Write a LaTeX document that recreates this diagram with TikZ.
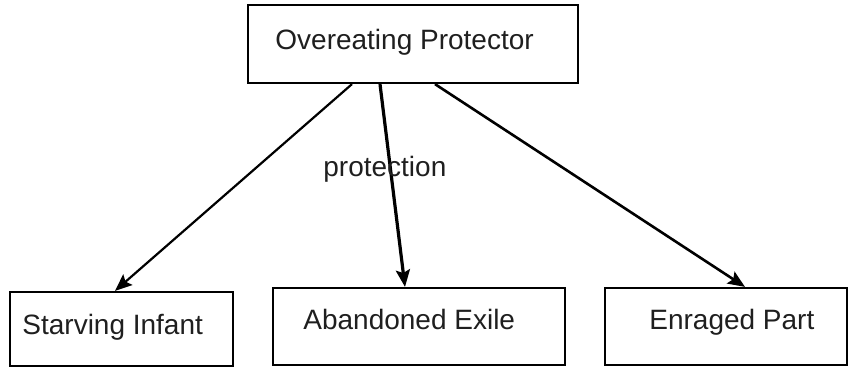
\documentclass[tikz,border=0pt]{standalone}
\usepackage{fontspec}
\setmainfont{Liberation Sans}
\usetikzlibrary{arrows.meta}
\begin{document}
\begin{tikzpicture}[x=0.5pt,y=-0.5pt,
  box/.style={draw=black,line width=1.1pt,rectangle,inner sep=0pt},
  txt/.style={inner sep=0pt,anchor=base west,font=\fontsize{14}{16}\selectfont,text=black!88},
  arr/.style={-{Stealth[length=8.5pt,width=7pt,inset=1.5pt]},draw=black}]
\useasboundingbox (0,0) rectangle (848,369);
\node[box,minimum width=165pt,minimum height=39pt] (top) at (413,44) {};
\node[box,minimum width=111.5pt,minimum height=37pt] (starv) at (121.5,329) {};
\node[box,minimum width=146pt,minimum height=38.5pt] (aband) at (419,326.5) {};
\node[box,minimum width=121pt,minimum height=38.5pt] (enr) at (726,326.5) {};
\node[txt] (ttop) at (275,50) {Overeating Protector};
\node[txt] (tstarv) at (22,335) {Starving Infant};
\node[txt] (taband) at (303,330) {Abandoned Exile};
\node[txt] (tenr) at (649,330) {Enraged Part};
\draw[arr,line width=1.1pt] ([xshift=-30.5pt]top.south) -- ([xshift=-3.25pt]starv.north);
\draw[arr,line width=1.6pt] ([xshift=-16.5pt]top.south) -- ([xshift=-7pt]aband.north);
\draw[arr,line width=1.3pt] ([xshift=11pt]top.south) -- ([xshift=9.5pt]enr.north);
\node[txt] (lprot) at (323,177) {protection};
\end{tikzpicture}
\end{document}
